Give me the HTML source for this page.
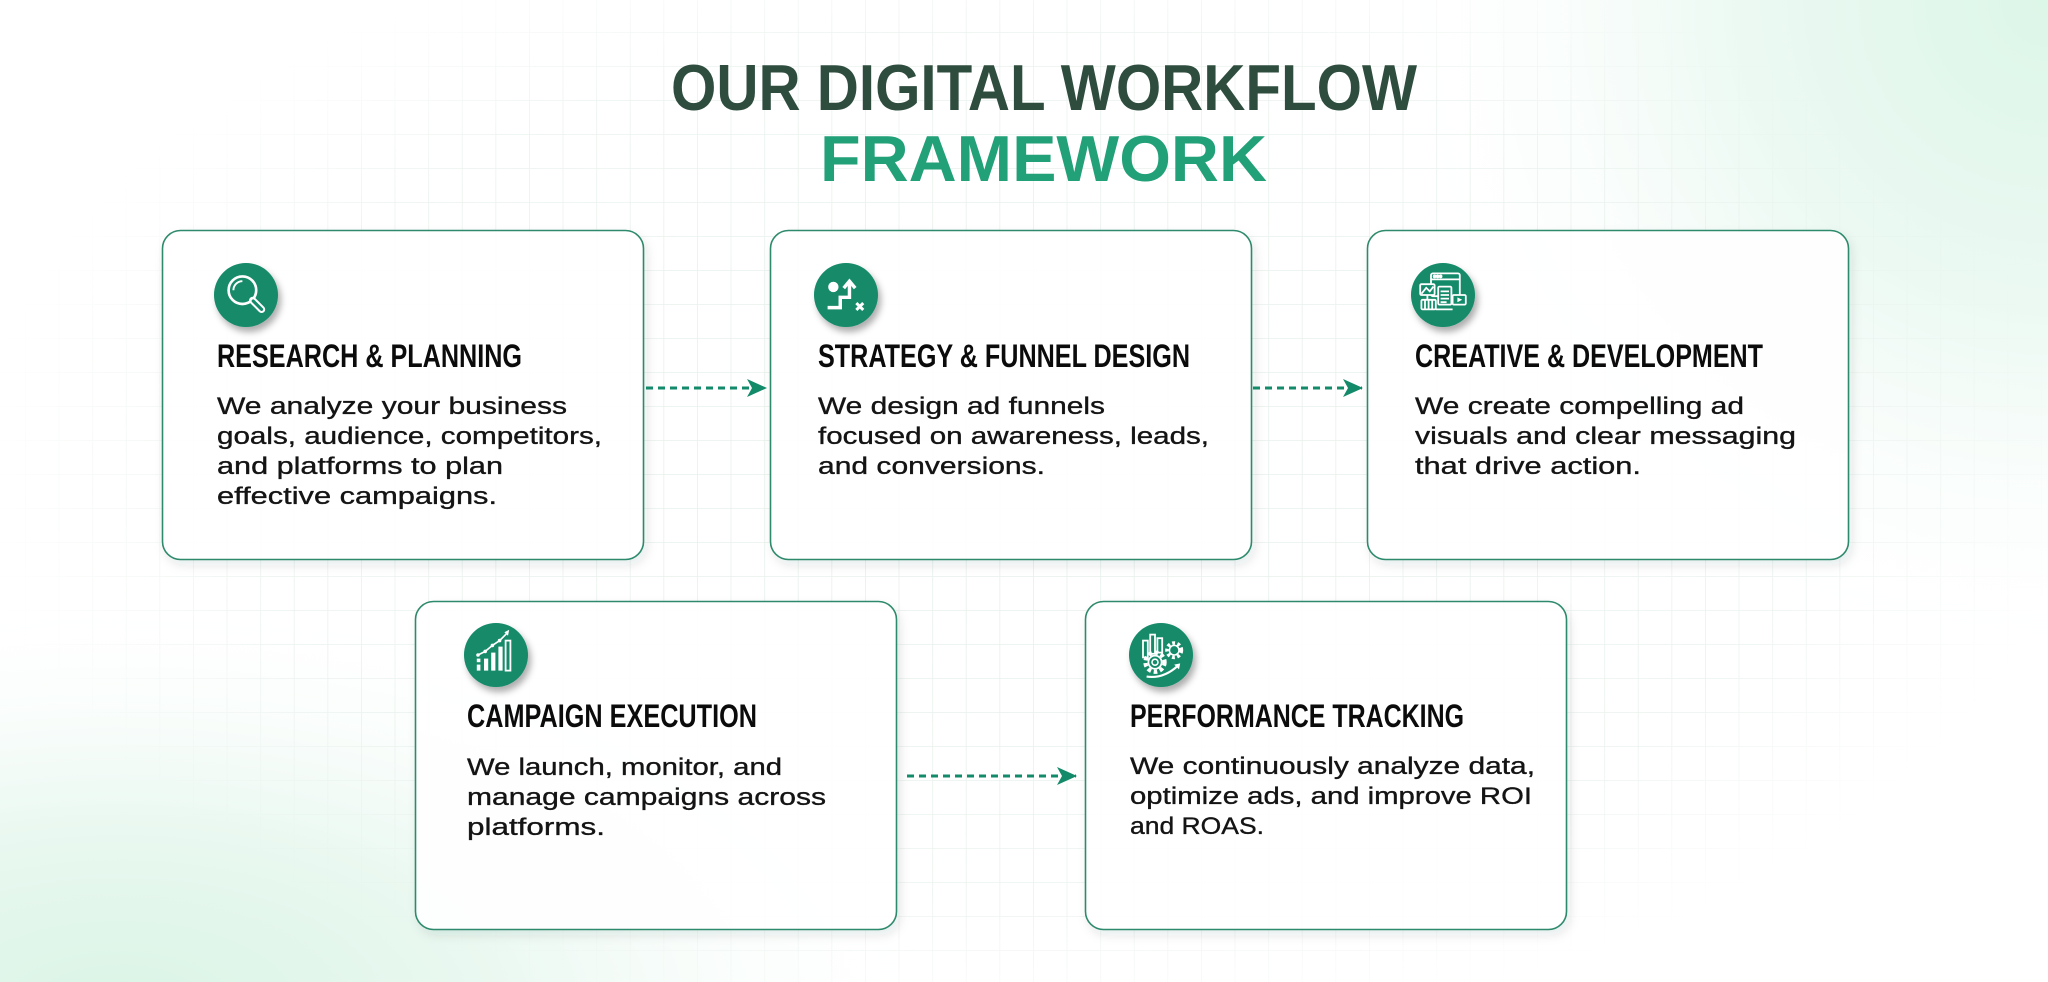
<!DOCTYPE html>
<html>
<head>
<meta charset="utf-8">
<style>
  html,body{margin:0;padding:0;background:#fff;}
  body{width:2048px;height:982px;overflow:hidden;}
  svg{display:block;}
  .h{font-family:"Liberation Sans",Arial,sans-serif;font-weight:700;}
  .t{font-family:"Liberation Sans Narrow","Liberation Sans",Arial,sans-serif;font-weight:700;font-size:32px;fill:#0b0b0b;}
  .b{font-family:"Liberation Sans",Arial,sans-serif;font-size:24px;fill:#141414;stroke:#141414;stroke-width:0.35px;}
</style>
</head>
<body>
<svg width="2048" height="982" viewBox="0 0 2048 982" xmlns="http://www.w3.org/2000/svg">
  <defs>
    <pattern id="grid" x="25" y="32" width="33.6" height="34" patternUnits="userSpaceOnUse">
      <path d="M0 0 H33.6 M0 0 V34" stroke="#e6efea" stroke-width="1.6" fill="none"/>
    </pattern>
    <radialGradient id="gfade" cx="1024" cy="470" r="1050" gradientUnits="userSpaceOnUse" gradientTransform="translate(1024 470) scale(1 0.55) translate(-1024 -470)">
      <stop offset="0" stop-color="#fff" stop-opacity="1"/>
      <stop offset="0.75" stop-color="#fff" stop-opacity="0.8"/>
      <stop offset="1" stop-color="#fff" stop-opacity="0"/>
    </radialGradient>
    <mask id="gmask">
      <rect width="2048" height="982" fill="url(#gfade)"/>
    </mask>
    <radialGradient id="tr" cx="2048" cy="0" r="680" gradientUnits="userSpaceOnUse">
      <stop offset="0" stop-color="#dcf6e8"/>
      <stop offset="0.45" stop-color="#e8f8f0" stop-opacity="0.85"/>
      <stop offset="1" stop-color="#ffffff" stop-opacity="0"/>
    </radialGradient>
    <radialGradient id="bl" cx="120" cy="1010" r="700" gradientUnits="userSpaceOnUse" gradientTransform="translate(120 1010) scale(1.2 0.6) translate(-120 -1010)">
      <stop offset="0" stop-color="#d9f4e5"/>
      <stop offset="0.45" stop-color="#e6f7ee" stop-opacity="0.85"/>
      <stop offset="1" stop-color="#ffffff" stop-opacity="0"/>
    </radialGradient>
    <filter id="cs" x="-10%" y="-10%" width="125%" height="130%">
      <feDropShadow dx="3" dy="5" stdDeviation="5" flood-color="#0d3a2a" flood-opacity="0.10"/>
    </filter>
    <filter id="is" x="-40%" y="-40%" width="190%" height="190%">
      <feDropShadow dx="3" dy="5" stdDeviation="3.5" flood-color="#000" flood-opacity="0.32"/>
    </filter>
    <marker id="ah" viewBox="0 0 20 20" refX="19" refY="10" markerWidth="20" markerHeight="20" markerUnits="userSpaceOnUse" orient="auto">
      <path d="M0 1 L20 10 L0 19 L5 10 Z" fill="#138a69"/>
    </marker>
  </defs>

  <!-- background -->
  <rect width="2048" height="982" fill="#ffffff"/>
  <rect width="2048" height="982" fill="url(#tr)"/>
  <rect width="2048" height="982" fill="url(#bl)"/>
  <rect width="2048" height="982" fill="url(#grid)" mask="url(#gmask)"/>

  <!-- heading -->
  <text class="h" x="671" y="110" font-size="65" fill="#2f4d3f" textLength="746" lengthAdjust="spacingAndGlyphs">OUR DIGITAL WORKFLOW</text>
  <text class="h" x="820" y="181" font-size="65" fill="#22a077" textLength="447" lengthAdjust="spacingAndGlyphs">FRAMEWORK</text>

  <!-- cards -->
  <g stroke="#2e8a6d" stroke-width="1.6" fill="#ffffff" fill-opacity="0.94" filter="url(#cs)">
    <rect x="162.5" y="230.5" width="481" height="329" rx="18"/>
    <rect x="770.5" y="230.5" width="481" height="329" rx="18"/>
    <rect x="1367.5" y="230.5" width="481" height="329" rx="18"/>
    <rect x="415.5" y="601.5" width="481" height="328" rx="18"/>
    <rect x="1085.5" y="601.5" width="481" height="328" rx="18"/>
  </g>

  <!-- arrows -->
  <g stroke="#138a69" stroke-width="3" stroke-dasharray="7 5" fill="none">
    <line x1="646" y1="388" x2="766" y2="388" marker-end="url(#ah)"/>
    <line x1="1253" y1="388" x2="1362" y2="388" marker-end="url(#ah)"/>
    <line x1="907" y1="776" x2="1076" y2="776" marker-end="url(#ah)"/>
  </g>

  <!-- icon 1: magnifier -->
  <g transform="translate(246 295)">
    <circle r="32" fill="#138a69" filter="url(#is)"/>
    <g transform="scale(1.2)">
      <circle cx="-3" cy="-4" r="11.5" fill="none" stroke="#fff" stroke-width="2.2"/>
      <path d="M-10.5 -4 A7.5 7.5 0 0 1 -3 -11.5" fill="none" stroke="#fff" stroke-width="1.6"/>
      <line x1="5.5" y1="4.5" x2="13" y2="12" stroke="#fff" stroke-width="6" stroke-linecap="round"/>
      <line x1="6" y1="5" x2="13" y2="12" stroke="#138a69" stroke-width="2.6" stroke-linecap="round"/>
    </g>
  </g>

  <!-- icon 2: strategy -->
  <g transform="translate(846 295)">
    <circle r="32" fill="#138a69" filter="url(#is)"/>
    <g transform="scale(1.15)">
      <circle cx="-11" cy="-7" r="4.5" fill="#fff"/>
      <polyline points="-16,11 -5,11 -5,2 3,2 3,-11" fill="none" stroke="#fff" stroke-width="3"/>
      <polyline points="-2,-6 3,-12 8,-6" fill="none" stroke="#fff" stroke-width="3"/>
      <path d="M9 7 L15 13 M15 7 L9 13" stroke="#fff" stroke-width="2.6"/>
    </g>
  </g>

  <!-- icon 3: creative -->
  <g transform="translate(1443 295)">
    <circle r="32" fill="#138a69" filter="url(#is)"/>
    <g transform="scale(1.2)" stroke="#fff" fill="#138a69" stroke-width="1.5">
      <rect x="-10" y="-18" width="24" height="19" rx="1.5"/>
      <line x1="-10" y1="-13" x2="14" y2="-13"/>
      <circle cx="-7" cy="-15.5" r="0.8" fill="#fff"/>
      <circle cx="-4.5" cy="-15.5" r="0.8" fill="#fff"/>
      <circle cx="-2" cy="-15.5" r="0.8" fill="#fff"/>
      <rect x="-19" y="-9" width="12" height="9" rx="1"/>
      <polyline points="-18,-1 -14,-6 -11,-3 -8,-7" fill="none"/>
      <rect x="-4" y="-7" width="11" height="15" rx="1"/>
      <path d="M-2 -3 H5 M-2 0 H5 M-2 3 H5 M-2 6 H3" fill="none"/>
      <rect x="8" y="0" width="11" height="8" rx="1"/>
      <path d="M12 2 L16 4 L12 6 Z" fill="#fff" stroke="none"/>
      <rect x="-18" y="4" width="12" height="8" rx="1"/>
      <path d="M-15 4 V12 M-12 4 V12 M-9 4 V12" fill="none"/>
      <line x1="-6" y1="12" x2="8" y2="12"/>
      <line x1="-13" y1="0" x2="-13" y2="4"/>
    </g>
  </g>

  <!-- icon 4: chart -->
  <g transform="translate(496 655)">
    <circle r="32" fill="#138a69" filter="url(#is)"/>
    <g transform="scale(1.2)">
      <g fill="#fff">
        <rect x="-16" y="8" width="3" height="5"/>
        <rect x="-16" y="3" width="3" height="3"/>
        <rect x="-10" y="3" width="3.5" height="10"/>
        <rect x="-4" y="-2" width="3.5" height="15"/>
        <rect x="2" y="-7" width="3.5" height="20"/>
      </g>
      <rect x="8" y="-12" width="4" height="25" fill="none" stroke="#fff" stroke-width="1.5"/>
      <polyline points="-15,0 -9,-3 -3,-8 3,-12 10,-19" fill="none" stroke="#fff" stroke-width="1.4"/>
      <g fill="#fff">
        <circle cx="-15" cy="0" r="1.5"/><circle cx="-9" cy="-3" r="1.5"/><circle cx="-3" cy="-8" r="1.5"/><circle cx="3" cy="-12" r="1.5"/>
      </g>
      <path d="M7 -19 L11 -21 L10 -16 Z" fill="#fff"/>
    </g>
  </g>

  <!-- icon 5: performance -->
  <g transform="translate(1161 655)">
    <circle r="32" fill="#138a69" filter="url(#is)"/>
    <g transform="scale(1.2)" stroke="#fff" fill="none">
      <rect x="-15" y="-12" width="4" height="14" stroke-width="1.5"/>
      <rect x="-9" y="-17" width="4" height="16" stroke-width="1.5"/>
      <rect x="-3" y="-14" width="4" height="12" stroke-width="1.5"/>
      <circle cx="-5" cy="6" r="8" stroke-width="3.5" stroke-dasharray="3 2.3"/>
      <circle cx="-5" cy="6" r="5.5" stroke-width="1.5" fill="#138a69"/>
      <circle cx="-5" cy="6" r="2.5" stroke-width="1.3"/>
      <circle cx="11" cy="-4" r="6" stroke-width="3" stroke-dasharray="2.4 2"/>
      <circle cx="11" cy="-4" r="4" stroke-width="1.3" fill="#138a69"/>
      <path d="M-12 18 Q2 20 14 9" stroke-width="1.8"/>
      <path d="M11 8 L16 7 L15 12 Z" fill="#fff" stroke="none"/>
    </g>
  </g>

  <!-- card titles -->
  <text class="t" x="217" y="367" textLength="305" lengthAdjust="spacingAndGlyphs">RESEARCH &amp; PLANNING</text>
  <text class="t" x="818" y="367" textLength="372" lengthAdjust="spacingAndGlyphs">STRATEGY &amp; FUNNEL DESIGN</text>
  <text class="t" x="1415" y="367" textLength="348" lengthAdjust="spacingAndGlyphs">CREATIVE &amp; DEVELOPMENT</text>
  <text class="t" x="467" y="727" textLength="290" lengthAdjust="spacingAndGlyphs">CAMPAIGN EXECUTION</text>
  <text class="t" x="1130" y="727" textLength="334" lengthAdjust="spacingAndGlyphs">PERFORMANCE TRACKING</text>

  <!-- card bodies -->
  <g class="b">
    <text x="217" y="414" textLength="350" lengthAdjust="spacingAndGlyphs">We analyze your business</text>
    <text x="217" y="444" textLength="385" lengthAdjust="spacingAndGlyphs">goals, audience, competitors,</text>
    <text x="217" y="474" textLength="286" lengthAdjust="spacingAndGlyphs">and platforms to plan</text>
    <text x="217" y="504" textLength="280" lengthAdjust="spacingAndGlyphs">effective campaigns.</text>

    <text x="818" y="414" textLength="287" lengthAdjust="spacingAndGlyphs">We design ad funnels</text>
    <text x="818" y="444" textLength="391" lengthAdjust="spacingAndGlyphs">focused on awareness, leads,</text>
    <text x="818" y="474" textLength="227" lengthAdjust="spacingAndGlyphs">and conversions.</text>

    <text x="1415" y="414" textLength="329" lengthAdjust="spacingAndGlyphs">We create compelling ad</text>
    <text x="1415" y="444" textLength="381" lengthAdjust="spacingAndGlyphs">visuals and clear messaging</text>
    <text x="1415" y="474" textLength="226" lengthAdjust="spacingAndGlyphs">that drive action.</text>

    <text x="467" y="775" textLength="315" lengthAdjust="spacingAndGlyphs">We launch, monitor, and</text>
    <text x="467" y="805" textLength="359" lengthAdjust="spacingAndGlyphs">manage campaigns across</text>
    <text x="467" y="835" textLength="138" lengthAdjust="spacingAndGlyphs">platforms.</text>

    <text x="1130" y="774" textLength="405" lengthAdjust="spacingAndGlyphs">We continuously analyze data,</text>
    <text x="1130" y="804" textLength="402" lengthAdjust="spacingAndGlyphs">optimize ads, and improve ROI</text>
    <text x="1130" y="834" textLength="134" lengthAdjust="spacingAndGlyphs">and ROAS.</text>
  </g>
</svg>
</body>
</html>
